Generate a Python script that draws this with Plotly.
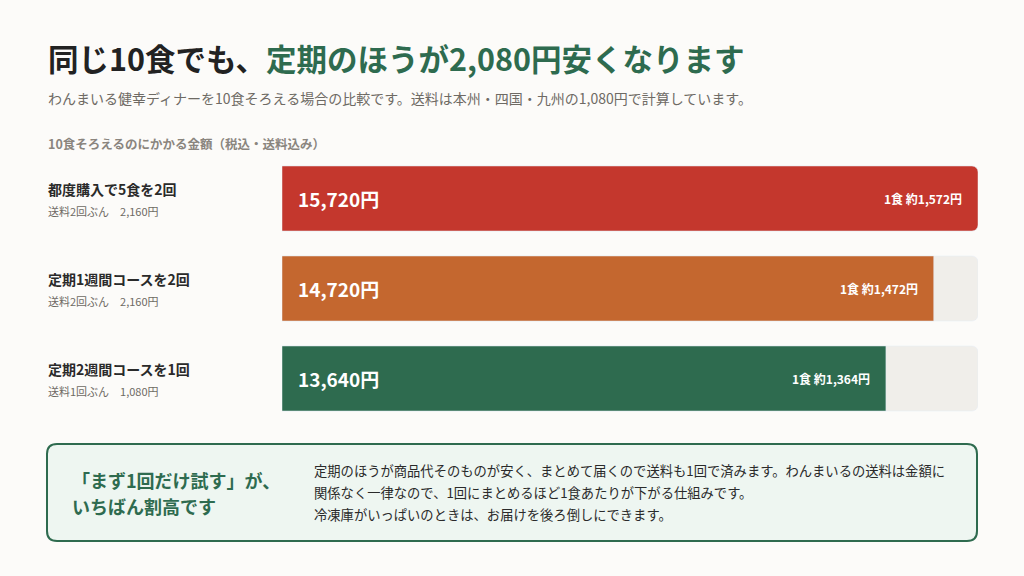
import plotly.graph_objects as go

plans = ["都度購入で5食を2回", "定期1週間コースを2回", "定期2週間コースを1回"]
shipping = ["送料2回ぶん　2,160円", "送料2回ぶん　2,160円", "送料1回ぶん　1,080円"]
totals = [15720, 14720, 13640]
per_meal = ["1食 約1,572円", "1食 約1,472円", "1食 約1,364円"]
colors = ["#C4372D", "#C4672F", "#2E6B4F"]
ycent = [198.5, 288.5, 378.5]
note_lines = ["定期のほうが商品代そのものが安く、まとめて届くので送料も1回で済みます。わんまいるの送料は金額に",
              "関係なく一律なので、1回にまとめるほど1食あたりが下がる仕組みです。",
              "冷凍庫がいっぱいのときは、お届けを後ろ倒しにできます。"]

F = "Noto Sans CJK JP"
fig = go.Figure()
fig.add_bar(y=ycent, x=[max(totals)]*3, orientation="h", width=65,
            marker=dict(color="#F0EEEA", cornerradius=6), hoverinfo="skip")
fig.add_bar(y=ycent, x=totals, orientation="h", width=65,
            marker=dict(color=colors, cornerradius=6), hoverinfo="skip")

ann = []
for y, p, s, t, m in zip(ycent, plans, shipping, totals, per_meal):
    ann.append(dict(x=0, y=y, xref="x", yref="y", text=f"<b>{t:,}円</b>", showarrow=False,
                    xanchor="left", xshift=14, font=dict(family=F, size=19, color="white")))
    ann.append(dict(x=t, y=y, xref="x", yref="y", text=f"<b>{m}</b>", showarrow=False,
                    xanchor="right", xshift=-14, font=dict(family=F, size=12, color="white")))
    ann.append(dict(x=46/1024, y=y-10, xref="paper", yref="y", text=f"<b>{p}</b>", showarrow=False,
                    xanchor="left", font=dict(family=F, size=14, color="#2A2A2A")))
    ann.append(dict(x=46/1024, y=y+12, xref="paper", yref="y", text=s, showarrow=False,
                    xanchor="left", font=dict(family=F, size=11, color="#6E6A64")))

ann += [
    dict(x=46/1024, y=58, xref="paper", yref="y", xanchor="left", showarrow=False,
         text="<b>同じ10食でも、<span style='color:#2E6B4F'>定期のほうが2,080円安くなります</span></b>",
         font=dict(family=F, size=30.5, color="#222222")),
    dict(x=46/1024, y=98, xref="paper", yref="y", xanchor="left", showarrow=False,
         text="わんまいる健幸ディナーを10食そろえる場合の比較です。送料は本州・四国・九州の1,080円で計算しています。",
         font=dict(family=F, size=14, color="#6E6A64")),
    dict(x=46/1024, y=143, xref="paper", yref="y", xanchor="left", showarrow=False,
         text="<b>10食そろえるのにかかる金額（税込・送料込み）</b>",
         font=dict(family=F, size=12.5, color="#8A857E")),
    dict(x=70/1024, y=480, xref="paper", yref="y", xanchor="left", showarrow=False,
         text="<b>「まず1回だけ試す」が、</b>", font=dict(family=F, size=18, color="#2E6B4F")),
    dict(x=70/1024, y=506, xref="paper", yref="y", xanchor="left", showarrow=False,
         text="<b>いちばん割高です</b>", font=dict(family=F, size=18, color="#2E6B4F")),
]
for i, line in enumerate(note_lines):
    ann.append(dict(x=312/1024, y=470 + 22*i, xref="paper", yref="y", xanchor="left", showarrow=False,
                    text=line, font=dict(family=F, size=13.3, color="#2A2A2A")))

x0, x1, y0, y1, r = 47/1024, 977/1024, 444, 541, 10
rx = r/1024
path = (f"M {x0+rx},{y0} L {x1-rx},{y0} Q {x1},{y0} {x1},{y0+r} L {x1},{y1-r} Q {x1},{y1} {x1-rx},{y1} "
        f"L {x0+rx},{y1} Q {x0},{y1} {x0},{y1-r} L {x0},{y0+r} Q {x0},{y0} {x0+rx},{y0} Z")
fig.add_shape(type="path", xref="paper", yref="y", path=path,
              line=dict(color="#2E6B4F", width=2), fillcolor="#EEF6F1", layer="below")

fig.update_layout(
    width=1024, height=576, margin=dict(l=0, r=0, t=0, b=0),
    paper_bgcolor="#FCFBF9", plot_bgcolor="rgba(0,0,0,0)",
    barmode="overlay", showlegend=False, annotations=ann,
    xaxis=dict(domain=[282/1024, 978/1024], range=[0, max(totals)], visible=False, fixedrange=True),
    yaxis=dict(range=[576, 0], visible=False, fixedrange=True),
)
fig.write_html("out.html", config={"displayModeBar": False},
               post_script="document.body.style.margin='0';document.body.style.overflow='hidden';")
